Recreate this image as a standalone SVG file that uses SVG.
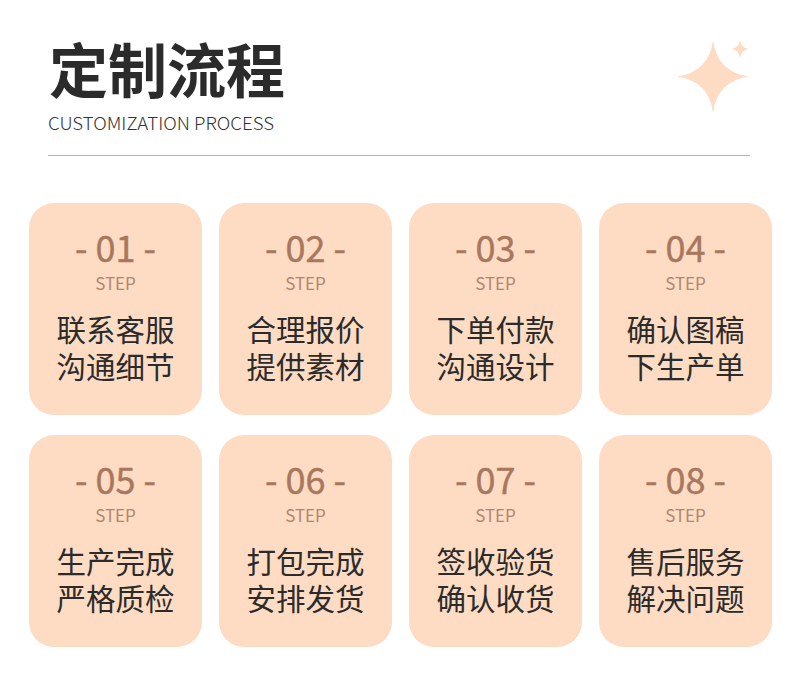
<svg xmlns="http://www.w3.org/2000/svg" width="800" height="693" viewBox="0 0 800 693">
<style>
.card{fill:#fddcc3}
.num{font-family:"Noto Sans CJK SC","Noto Sans",sans-serif;font-size:36px;font-weight:400;fill:#a8775e;text-anchor:middle;stroke:#a8775e;stroke-width:0.4}
.step{font-family:"Noto Sans CJK SC","Noto Sans",sans-serif;font-size:17px;fill:#b08670;text-anchor:middle}
.cn{font-family:"Noto Sans CJK SC",sans-serif;font-size:29.5px;fill:#2b2b2b;text-anchor:middle}
.star{fill:#fddcc3}
</style>
<rect width="800" height="693" fill="#ffffff"/>
<g id="header">
<text x="49" y="93" font-family="Noto Sans CJK SC, sans-serif" font-size="59" font-weight="bold" fill="#2b2b2b">定制流程</text>
<text x="48" y="130" font-family="Noto Sans CJK SC, Noto Sans, sans-serif" font-size="18" font-weight="300" fill="#333333" textLength="226" lengthAdjust="spacingAndGlyphs">CUSTOMIZATION PROCESS</text>
<line x1="48" y1="155.5" x2="750" y2="155.5" stroke="#b3b3b3" stroke-width="1.2"/>
<path class="star" d="M713,40 Q717,72 749,76.5 Q717,81 713,113 Q709,81 677,76.5 Q709,72 713,40 Z"/>
<path class="star" d="M740,40 Q741,48 748.5,49 Q741,50 740,58 Q739,50 731.5,49 Q739,48 740,40 Z"/>
</g>
<g id="connectors"></g>
<g id="step1"><rect class="card" x="29" y="203" width="173" height="212" rx="25"/><text class="num" x="115.5" y="262">- 01 -</text><text class="step" x="115.5" y="290">STEP</text><text class="cn" x="115.5" y="341">联系客服</text><text class="cn" x="115.5" y="378">沟通细节</text></g>
<g id="step2"><rect class="card" x="219" y="203" width="173" height="212" rx="25"/><text class="num" x="305.5" y="262">- 02 -</text><text class="step" x="305.5" y="290">STEP</text><text class="cn" x="305.5" y="341">合理报价</text><text class="cn" x="305.5" y="378">提供素材</text></g>
<g id="step3"><rect class="card" x="409" y="203" width="173" height="212" rx="25"/><text class="num" x="495.5" y="262">- 03 -</text><text class="step" x="495.5" y="290">STEP</text><text class="cn" x="495.5" y="341">下单付款</text><text class="cn" x="495.5" y="378">沟通设计</text></g>
<g id="step4"><rect class="card" x="599" y="203" width="173" height="212" rx="25"/><text class="num" x="685.5" y="262">- 04 -</text><text class="step" x="685.5" y="290">STEP</text><text class="cn" x="685.5" y="341">确认图稿</text><text class="cn" x="685.5" y="378">下生产单</text></g>
<g id="step5"><rect class="card" x="29" y="435" width="173" height="212" rx="25"/><text class="num" x="115.5" y="494">- 05 -</text><text class="step" x="115.5" y="522">STEP</text><text class="cn" x="115.5" y="573">生产完成</text><text class="cn" x="115.5" y="610">严格质检</text></g>
<g id="step6"><rect class="card" x="219" y="435" width="173" height="212" rx="25"/><text class="num" x="305.5" y="494">- 06 -</text><text class="step" x="305.5" y="522">STEP</text><text class="cn" x="305.5" y="573">打包完成</text><text class="cn" x="305.5" y="610">安排发货</text></g>
<g id="step7"><rect class="card" x="409" y="435" width="173" height="212" rx="25"/><text class="num" x="495.5" y="494">- 07 -</text><text class="step" x="495.5" y="522">STEP</text><text class="cn" x="495.5" y="573">签收验货</text><text class="cn" x="495.5" y="610">确认收货</text></g>
<g id="step8"><rect class="card" x="599" y="435" width="173" height="212" rx="25"/><text class="num" x="685.5" y="494">- 08 -</text><text class="step" x="685.5" y="522">STEP</text><text class="cn" x="685.5" y="573">售后服务</text><text class="cn" x="685.5" y="610">解决问题</text></g>
</svg>
